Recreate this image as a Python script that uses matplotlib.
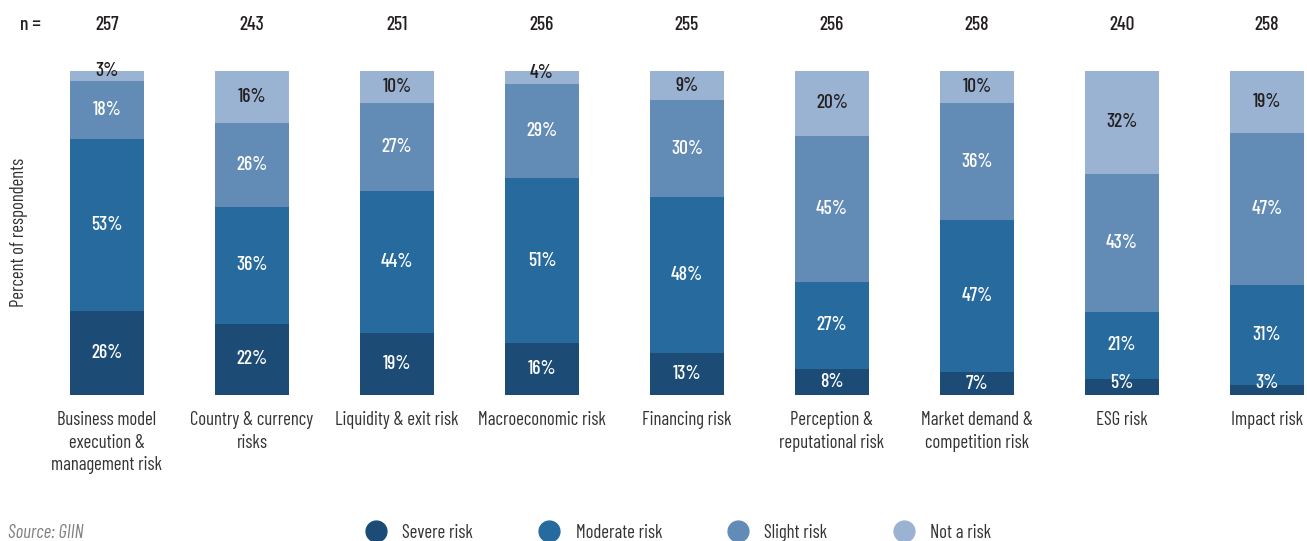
import matplotlib.pyplot as plt
from matplotlib.lines import Line2D

plt.rcParams['font.family'] = ['Barlow Condensed', 'DejaVu Sans']

# --- data ---
categories = ['Business model\nexecution &\nmanagement risk', 'Country & currency\nrisks',
              'Liquidity & exit risk', 'Macroeconomic risk', 'Financing risk',
              'Perception &\nreputational risk', 'Market demand &\ncompetition risk',
              'ESG risk', 'Impact risk']
n_values = [257, 243, 251, 256, 255, 256, 258, 240, 258]
severe = [26, 22, 19, 16, 13, 8, 7, 5, 3]
moderate = [53, 36, 44, 51, 48, 27, 47, 21, 31]
slight = [18, 26, 27, 29, 30, 45, 36, 43, 47]
not_risk = [3, 16, 10, 4, 9, 20, 10, 32, 19]
series_names = ['Severe risk', 'Moderate risk', 'Slight risk', 'Not a risk']
colors = ['#1c4c76', '#266a9e', '#628cb6', '#9ab3d2']
label_colors = ['white', 'white', 'white', '#231f20']

fig = plt.figure(figsize=(13.07, 5.41), dpi=100)
ax = fig.add_axes([0, 0.2699, 1, 0.5989])

series = [severe, moderate, slight, not_risk]
x = list(range(len(categories)))
for i in x:
    vals = [s[i] for s in series]
    total = sum(vals)
    bottom = 0
    for k, v in enumerate(vals):
        h = v * 100 / total
        ax.bar(i, h, bottom=bottom, width=0.51, color=colors[k], edgecolor='none')
        y = bottom + h / 2
        col = label_colors[k]
        if v < 6 and k == 0:
            y = max(y, 3.7)
        elif v < 6 and k == 3:
            y = y + 1.5
            col = '#231f20'
        ax.text(i, y, f'{v}%', ha='center', va='center', color=col, fontsize=14,
                fontweight='medium')
        bottom += h
    ax.text(i, 114.2, str(n_values[i]), ha='center', va='center', color='#231f20',
            fontsize=14, fontweight='medium')
    ax.text(i, -5.0, categories[i], ha='center', va='top', color='#333333', fontsize=13.5,
            linespacing=1.32)

ax.text(-0.531, 114.2, 'n =', ha='center', va='center', color='#231f20', fontsize=14,
        fontweight='medium')
ax.text(-0.605, 50.3, 'Percent of respondents', rotation=90, ha='center', va='center',
        color='#333333', fontsize=13.5)

ax.set_xlim(-107 / 145, 1200 / 145)
ax.set_ylim(0, 100)
ax.axis('off')

fig.text(8 / 1307, 1 - 533 / 541, 'Source: GIIN', style='italic', color='#808080',
         fontsize=13.5, ha='left', va='center')

handles = [Line2D([], [], marker='o', linestyle='none', markersize=15, color=c) for c in colors]
fig.legend(handles, series_names, loc='center', bbox_to_anchor=(679 / 1307, 1 - 533 / 541),
           ncol=4, frameon=False, fontsize=13.5, handlelength=1.0, handletextpad=0.9,
           columnspacing=3.55, labelcolor='#333333')

fig.savefig('out.png', dpi=100)
